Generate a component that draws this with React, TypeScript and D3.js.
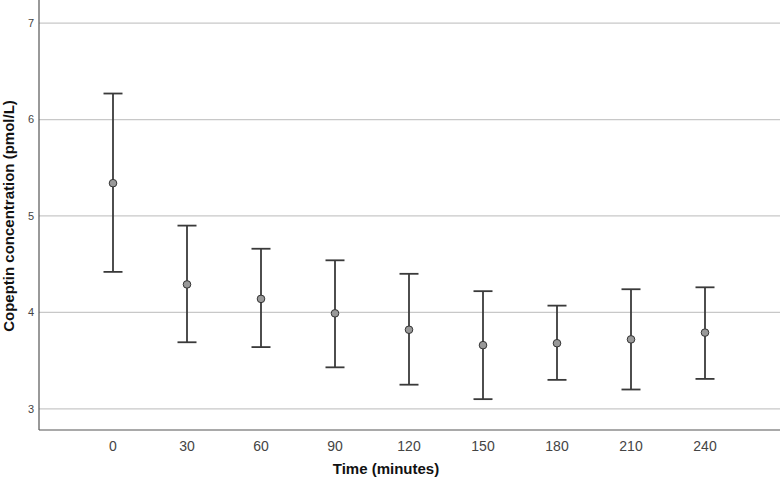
import React from "react";
import * as d3 from "d3";

const times = ["0", "30", "60", "90", "120", "150", "180", "210", "240"];
const means = [5.34, 4.29, 4.14, 3.99, 3.82, 3.66, 3.68, 3.72, 3.79];
const uppers = [6.27, 4.90, 4.66, 4.54, 4.40, 4.22, 4.07, 4.24, 4.26];
const lowers = [4.42, 3.69, 3.64, 3.43, 3.25, 3.10, 3.30, 3.20, 3.31];
const yTicks = [3, 4, 5, 6, 7];

const W = 782;
const H = 480;
const left = 39;
const right = 780;
const bottom = 430;
const top = 0;

export default function App() {
  const x = d3.scalePoint<string>().domain(times).range([left, right - 1]).padding(1);
  const y = d3.scaleLinear().domain([2.78, 7.24]).range([bottom, top]);
  const font = "'Liberation Sans', Arial, sans-serif";
  const capHalf = 9.5;

  return (
    <svg
      width={W}
      height={H}
      style={{ position: "absolute", left: 0, top: 0, background: "#fff" }}
      fontFamily={font}
    >
      <rect x={0} y={0} width={W} height={H} fill="#fff" />
      {yTicks.map((t) => (
        <g key={t}>
          <line x1={left} x2={right} y1={y(t)} y2={y(t)} stroke="#c8c8c8" strokeWidth={1.3} />
          <text x={34} y={y(t)} dy="0.35em" textAnchor="end" fontSize={11} fill="#444">
            {t}
          </text>
        </g>
      ))}
      <line x1={left} x2={left} y1={top} y2={bottom} stroke="#555" strokeWidth={1.2} />
      <line x1={left} x2={right} y1={bottom} y2={bottom} stroke="#555" strokeWidth={1.2} />
      {times.map((t, i) => {
        const cx = x(t)!;
        return (
          <g key={t}>
            <line x1={cx} x2={cx} y1={y(uppers[i])} y2={y(lowers[i])} stroke="#3a3a3a" strokeWidth={1.8} />
            <line x1={cx - capHalf} x2={cx + capHalf} y1={y(uppers[i])} y2={y(uppers[i])} stroke="#3a3a3a" strokeWidth={1.8} />
            <line x1={cx - capHalf} x2={cx + capHalf} y1={y(lowers[i])} y2={y(lowers[i])} stroke="#3a3a3a" strokeWidth={1.8} />
            <circle cx={cx} cy={y(means[i])} r={3.8} fill="#999" stroke="#333" strokeWidth={1} />
            <text x={cx} y={451} textAnchor="middle" fontSize={14} fill="#444">
              {t}
            </text>
          </g>
        );
      })}
      <text x={386} y={474} textAnchor="middle" fontSize={15} fontWeight="bold" fill="#111">
        Time (minutes)
      </text>
      <text
        transform={`translate(14, 216) rotate(-90)`}
        textAnchor="middle"
        fontSize={15}
        fontWeight="bold"
        fill="#111"
      >
        Copeptin concentration (pmol/L)
      </text>
    </svg>
  );
}
